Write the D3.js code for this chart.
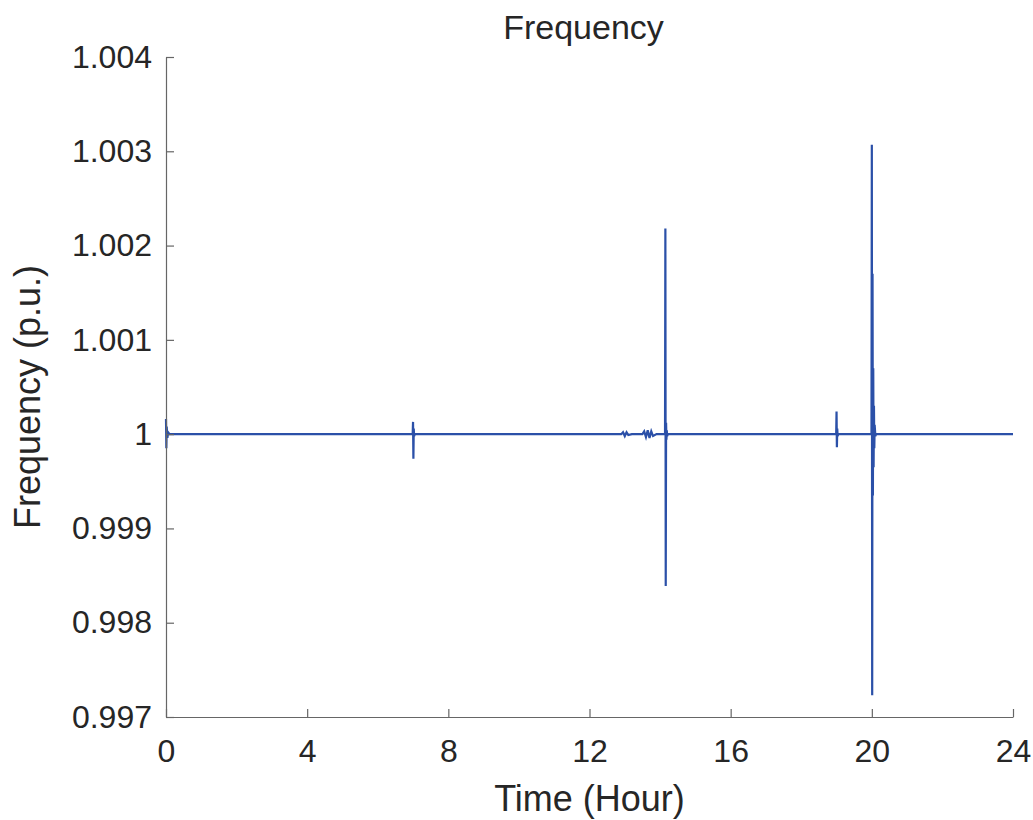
<!DOCTYPE html>
<html>
<head>
<meta charset="utf-8">
<script src="https://cdn.jsdelivr.net/npm/d3@7"></script>
<style>
  body { margin: 0; background: #fff; }
  svg text { font-family: "Liberation Sans", Arial, Helvetica, sans-serif; fill: #262626; }
</style>
</head>
<body>
<div id="chart"></div>
<script>
// time in hours and frequency in p.u.
const timeHours = [
    0, 0.01, 0.02, 0.04, 0.06, 0.1,
    6.99, 7.0, 7.01, 7.02, 7.03, 7.05,
    12.9, 12.95, 13.0, 13.05, 13.1, 13.2,
    13.5, 13.55, 13.6, 13.65, 13.7, 13.75, 13.8, 13.9,
    14.14, 14.15, 14.16, 14.17, 14.18, 14.19, 14.2, 14.22,
    18.99, 19.0, 19.01, 19.02, 19.03, 19.05,
    19.99, 20.0, 20.01, 20.02, 20.03, 20.04, 20.05, 20.06, 20.07, 20.08, 20.1, 20.12,
    24
];
const freqPU = [
    1.00016, 0.99985, 1.00008, 0.99996, 1.00002, 1.0,
    1.0, 1.00013, 0.99974, 1.00006, 0.99998, 1.0,
    1.0, 1.00002, 0.99998, 1.00002, 0.99999, 1.0,
    1.0, 1.00003, 0.99997, 1.00004, 0.99996, 1.00003, 0.99998, 1.0,
    1.0, 1.00218, 0.99839, 1.00012, 0.99994, 1.00004, 0.99998, 1.0,
    1.0, 1.00024, 0.99986, 1.00006, 0.99998, 1.0,
    1.0, 1.00307, 0.99723, 1.0017, 0.99935, 1.0007, 0.99965, 1.0003, 0.99985, 1.0001, 0.99998, 1.0,
    1.0
];
const xTicks = [0, 4, 8, 12, 16, 20, 24];
const yTicks = [0.997, 0.998, 0.999, 1, 1.001, 1.002, 1.003, 1.004];

const width = 1033;
const height = 820;
const margin = { top: 57, right: 20, bottom: 103, left: 166 };

const svg = d3.select("#chart")
    .append("svg")
    .attr("width", width)
    .attr("height", height);

const x = d3.scaleLinear()
    .domain([0, 24])
    .range([margin.left, 1013]);

const y = d3.scaleLinear()
    .domain([0.997, 1.004])
    .range([height - margin.bottom, margin.top]);

const data = timeHours.map((t, i) => ({ t: t, f: freqPU[i] }));

// series
svg.append("path")
    .datum(data)
    .attr("fill", "none")
    .attr("stroke", "#2b50a8")
    .attr("stroke-width", 2.2)
    .attr("d", d3.line().x(d => x(d.t)).y(d => y(d.f)));

// axes (box off, ticks inward)
const xAxis = svg.append("g")
    .attr("transform", `translate(0,${y(0.997)})`)
    .call(d3.axisBottom(x).tickValues(xTicks).tickFormat(d3.format("d"))
        .tickSizeInner(-8).tickSizeOuter(0).tickPadding(22));

const yAxis = svg.append("g")
    .attr("transform", `translate(${x(0)},0)`)
    .call(d3.axisLeft(y).tickValues(yTicks).tickFormat(d => d === 1 ? "1" : d3.format(".3f")(d))
        .tickSizeInner(-8).tickSizeOuter(0).tickPadding(14));

[xAxis, yAxis].forEach(g => {
    g.select(".domain").attr("stroke", "#666").attr("stroke-width", 1.2);
    g.selectAll(".tick line").attr("stroke", "#666").attr("stroke-width", 1.2);
    g.selectAll(".tick text").attr("fill", "#262626")
        .style("font-size", "32px").style("font-family", "Liberation Sans, Arial, sans-serif");
});

// title and labels
svg.append("text")
    .attr("x", (x(0) + x(24)) / 2 - 6)
    .attr("y", 39)
    .attr("text-anchor", "middle")
    .style("font-size", "34px")
    .text("Frequency");

svg.append("text")
    .attr("x", (x(0) + x(24)) / 2)
    .attr("y", 811)
    .attr("text-anchor", "middle")
    .style("font-size", "36px")
    .text("Time (Hour)");

svg.append("text")
    .attr("transform", `translate(40,${(y(0.997) + y(1.004)) / 2 + 10}) rotate(-90)`)
    .attr("text-anchor", "middle")
    .style("font-size", "36px")
    .text("Frequency (p.u.)");
</script>
</body>
</html>
